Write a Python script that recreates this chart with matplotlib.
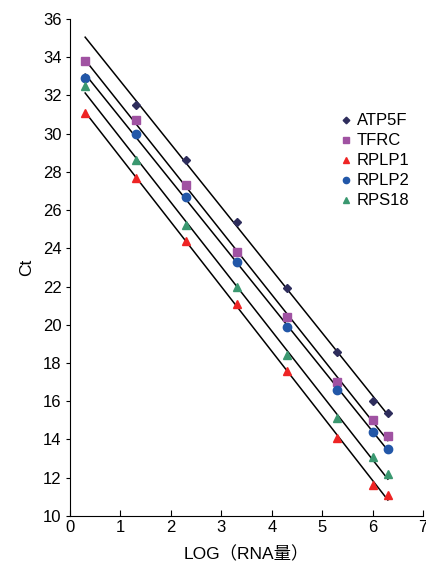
import numpy as np
import matplotlib.pyplot as plt

plt.rcParams['font.family'] = ['Liberation Sans', 'Noto Sans CJK JP', 'DejaVu Sans']

x_all = [0.3, 1.3, 2.3, 3.3, 4.3, 5.3, 6.0, 6.3]

x_atp5f = [1.3, 2.3, 3.3, 4.3, 5.3, 6.0, 6.3]
ct_atp5f = [31.5, 28.6, 25.4, 21.9, 18.6, 16.0, 15.4]
ct_tfrc = [33.8, 30.7, 27.3, 23.8, 20.4, 17.0, 15.0, 14.2]
ct_rplp1 = [31.1, 27.7, 24.4, 21.1, 17.6, 14.1, 11.6, 11.1]
ct_rplp2 = [32.9, 30.0, 26.7, 23.3, 19.9, 16.6, 14.4, 13.5]
ct_rps18 = [32.5, 28.6, 25.2, 22.0, 18.4, 15.1, 13.1, 12.2]

series = [
    ('ATP5F', x_atp5f, ct_atp5f, 'D', '#2E2D5C', 4.5),
    ('TFRC', x_all, ct_tfrc, 's', '#A052A2', 5.5),
    ('RPLP1', x_all, ct_rplp1, '^', '#EE2424', 5.5),
    ('RPLP2', x_all, ct_rplp2, 'o', '#2257A8', 6),
    ('RPS18', x_all, ct_rps18, '^', '#3A9870', 5.5),
]

fig = plt.figure(figsize=(4.27, 5.72), dpi=100)
ax = fig.add_axes([0.164, 0.098, 0.827, 0.869])

line_x = np.array([0.3, 6.3])
for name, xs, ys, mk, col, ms in series:
    a, b = np.polyfit(xs, ys, 1)
    ax.plot(line_x, a * line_x + b, color='black', lw=1.1, zorder=2)
for name, xs, ys, mk, col, ms in series:
    ax.plot(xs, ys, linestyle='none', marker=mk, color=col, ms=ms,
            label=name, zorder=3)

ax.set_xlim(0, 7)
ax.set_ylim(10, 36)
ax.set_xticks(range(0, 8))
ax.set_yticks(range(10, 37, 2))
ax.tick_params(axis='x', direction='in', labelsize=12, length=4, pad=3)
ax.tick_params(axis='y', direction='out', labelsize=12, length=3, pad=3)
ax.spines['top'].set_visible(False)
ax.spines['right'].set_visible(False)
ax.set_xlabel('LOG（RNA量）', fontsize=12.5, labelpad=8)
ax.set_ylabel('Ct', fontsize=12.5, labelpad=6)

ax.legend(loc='upper left', bbox_to_anchor=(0.725, 0.84), frameon=False,
          fontsize=12, markerscale=0.75, handlelength=0.6, handletextpad=0.35,
          labelspacing=0.3)

fig.savefig('out.png')
